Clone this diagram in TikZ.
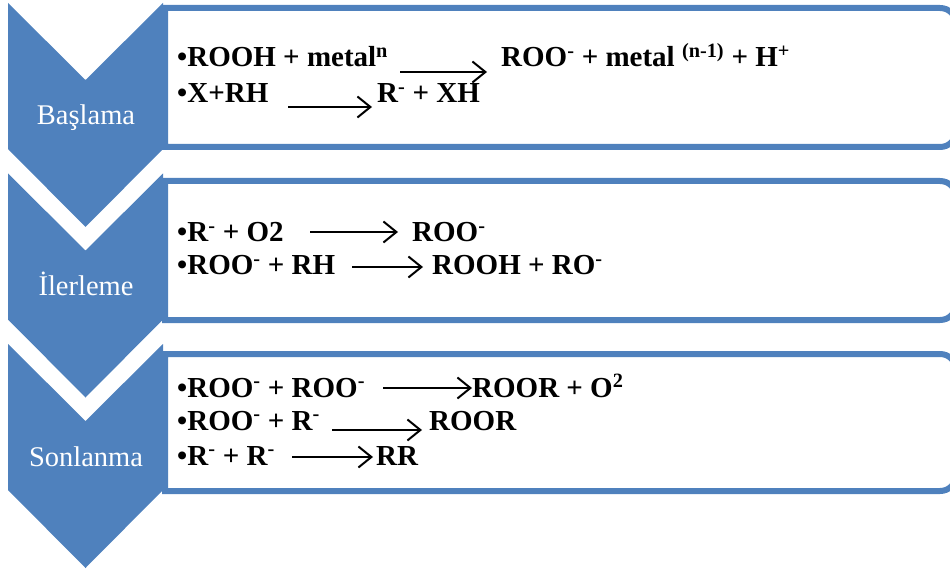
\documentclass[tikz,border=0pt]{standalone}
\usepackage{fontspec}
\setmainfont{Liberation Serif}
\usetikzlibrary{arrows.meta}
\definecolor{accent}{HTML}{4F81BD}
\newcommand{\sx}[1]{\textsuperscript{#1}}
\begin{document}
\begin{tikzpicture}[x=1pt,y=-1pt,
  chev/.style={fill=accent, draw=none},
  panel/.style={draw=accent, line width=6pt, fill=white},
  stage/.style={text=white, font=\fontsize{28.5}{34}\selectfont, inner sep=0pt, anchor=base},
  eq/.style={font=\fontsize{29}{34}\selectfont\bfseries, inner sep=0pt, anchor=base west},
  rxn/.style={line width=2pt, -{Straight Barb[length=13pt,width=21pt]}}]
\useasboundingbox (0,0) rectangle (950,569);
\clip (0,0) rectangle (950,569);
% panels
\foreach \a/\b/\n in {8/147/p1, 181/320/p2, 354/491/p3}{
  \draw[panel] (165,\a) -- (940,\a) .. controls (949,\a) and (956,\a+7) .. (956,\a+16)
     -- (956,\b-16) .. controls (956,\b-7) and (949,\b) .. (940,\b) -- (165,\b) -- cycle;
}
% chevrons
\foreach \t/\n/\lab in {3/c1/Başlama, 173.5/c2/İlerleme, 344/c3/Sonlanma}{
  \fill[chev] (8,\t) -- (85.5,\t+77) -- (163,\t) -- (163,\t+146) -- (85.5,\t+224) -- (8,\t+146) -- cycle;
  \node[stage] (\n) at (86,\t+122) {\lab};
}
% Baslama
\node[eq] (l11) at (177,67) {•ROOH + metal\sx{n}};
\node[eq] (r11) at (501,67) {ROO\sx{-} + metal \sx{(n-1)} + H\sx{+}};
\coordinate (s11) at (400,72); \coordinate (e11) at (487,72);
\draw[rxn] (s11) -- (e11);
\node[eq] (l12) at (177,103) {•X+RH};
\node[eq] (r12) at (377,103) {R\sx{-} + XH};
\coordinate (s12) at (288,107); \coordinate (e12) at (372,107);
\draw[rxn] (s12) -- (e12);
% Ilerleme
\node[eq] (l21) at (177,242) {•R\sx{-} + O2};
\node[eq] (r21) at (412,242) {ROO\sx{-}};
\coordinate (s21) at (310,232); \coordinate (e21) at (398,232);
\draw[rxn] (s21) -- (e21);
\node[eq] (l22) at (177,275) {•ROO\sx{-} + RH};
\node[eq] (r22) at (432,275) {ROOH + RO\sx{-}};
\coordinate (s22) at (352,267); \coordinate (e22) at (423,267);
\draw[rxn] (s22) -- (e22);
% Sonlanma
\node[eq] (l31) at (177,397) {•ROO\sx{-} + ROO\sx{-}};
\node[eq] (r31) at (472,397) {ROOR + O\sx{2}};
\coordinate (s31) at (383,388); \coordinate (e31) at (472,388);
\draw[rxn] (s31) -- (e31);
\node[eq] (l32) at (177,430) {•ROO\sx{-} + R\sx{-}};
\node[eq] (r32) at (429,430) {ROOR};
\coordinate (s32) at (332,430); \coordinate (e32) at (422,430);
\draw[rxn] (s32) -- (e32);
\node[eq] (l33) at (177,465) {•R\sx{-} + R\sx{-}};
\node[eq] (r33) at (376,465) {RR};
\coordinate (s33) at (292,457); \coordinate (e33) at (373,457);
\draw[rxn] (s33) -- (e33);
\end{tikzpicture}
\end{document}
